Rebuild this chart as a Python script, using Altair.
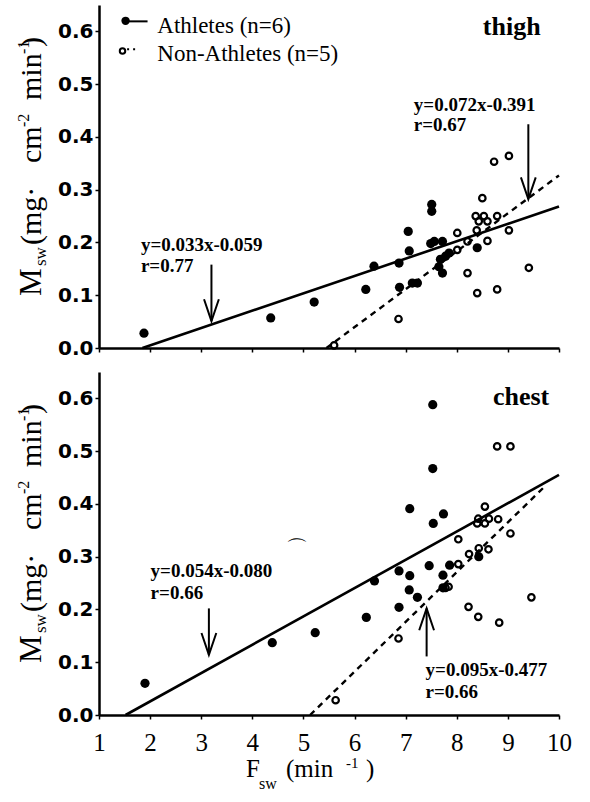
import altair as alt
import pandas as pd

# ---------------- data ----------------
thigh_ath_x = [1.88, 4.36, 5.21, 6.22, 6.38, 6.87, 6.88, 7.05, 7.07, 7.13, 7.23, 7.51, 7.51,
               7.49, 7.56, 7.72, 7.68, 7.78, 7.85, 7.72, 7.65, 8.40]
thigh_ath_y = [0.028, 0.057, 0.087, 0.111, 0.155, 0.161, 0.115, 0.221, 0.184, 0.123, 0.123, 0.272, 0.259,
               0.198, 0.202, 0.202, 0.168, 0.174, 0.180, 0.142, 0.154, 0.190]
thigh_non_x = [5.60, 6.86, 8.01, 8.01, 8.21, 8.21, 8.39, 8.37, 8.53, 8.43, 8.60, 8.50, 8.60,
               8.79, 8.73, 9.02, 9.02, 8.40, 8.79, 9.41]
thigh_non_y = [0.005, 0.055, 0.218, 0.186, 0.202, 0.142, 0.223, 0.250, 0.250, 0.240, 0.240, 0.284, 0.203,
               0.250, 0.353, 0.364, 0.223, 0.104, 0.111, 0.152]

chest_ath_x = [1.90, 4.39, 5.23, 6.23, 6.39, 6.87, 6.87, 7.08, 7.08, 7.07, 7.23, 7.46, 7.53,
               7.53, 7.54, 7.74, 7.73, 7.73, 7.86, 8.43]
chest_ath_y = [0.060, 0.137, 0.156, 0.185, 0.254, 0.273, 0.204, 0.391, 0.264, 0.237, 0.223, 0.283, 0.588,
               0.467, 0.363, 0.381, 0.265, 0.241, 0.284, 0.300]
chest_non_x = [5.63, 6.86, 7.78, 7.84, 8.03, 8.03, 8.24, 8.23, 8.42, 8.43, 8.40, 8.42, 8.55,
               8.55, 8.62, 8.63, 8.81, 8.79, 9.05, 9.05, 8.83, 9.46]
chest_non_y = [0.028, 0.145, 0.241, 0.243, 0.333, 0.286, 0.305, 0.205, 0.186, 0.316, 0.363, 0.372, 0.395,
               0.363, 0.314, 0.372, 0.371, 0.509, 0.509, 0.344, 0.175, 0.223]

# regression lines (end points)
thigh_ath_fit_x = [1.85, 10.0]
thigh_ath_fit_y = [0.0, 0.268]
thigh_non_fit_x = [5.45, 10.0]
thigh_non_fit_y = [0.0, 0.327]
chest_ath_fit_x = [1.52, 10.0]
chest_ath_fit_y = [0.0, 0.455]
chest_non_fit_x = [5.13, 9.72]
chest_non_fit_y = [0.0, 0.433]

thigh_eq = ["y=0.033x-0.059", "r=0.77", "y=0.072x-0.391", "r=0.67"]
chest_eq = ["y=0.054x-0.080", "r=0.66", "y=0.095x-0.477", "r=0.66"]
legend_labels = ["Athletes (n=6)", "Non-Athletes (n=5)"]
x_ticks = [1, 2, 3, 4, 5, 6, 7, 8, 9, 10]
y_ticks = [0.0, 0.1, 0.2, 0.3, 0.4, 0.5, 0.6]

SERIF = "Liberation Serif"
W, H = 460, 343


def xenc(show_labels):
    return alt.X("x:Q", scale=alt.Scale(domain=[1, 10], nice=False, zero=False),
                 axis=alt.Axis(values=x_ticks, title=None, labels=show_labels, grid=False,
                               domainColor="black", domainWidth=2.5, tickColor="black",
                               tickWidth=1.5, tickSize=4, labelFont=SERIF, labelFontSize=25,
                               labelColor="black", labelPadding=11, labelFlush=False))


def yenc():
    return alt.Y("y:Q", scale=alt.Scale(domain=[0, 0.65], nice=False, zero=False),
                 axis=alt.Axis(values=y_ticks, format=".1f", title=None, grid=False,
                               domainColor="black", domainWidth=2.5, tickColor="black",
                               tickWidth=1.5, tickSize=4, labelFont="DejaVu Sans",
                               labelFontWeight="bold", labelFontSize=20, labelColor="black",
                               labelPadding=2))


def vtext(txt, size, x, y):
    return alt.Chart(pd.DataFrame({"a": [0]})).mark_text(
        text=txt, font=SERIF, fontSize=size, angle=270, align="left",
        baseline="alphabetic", color="black").encode(x=alt.value(x), y=alt.value(y))


def htext(txt, size, x, y):
    return alt.Chart(pd.DataFrame({"a": [0]})).mark_text(
        text=txt, font=SERIF, fontSize=size, align="left",
        baseline="alphabetic", color="black").encode(x=alt.value(x), y=alt.value(y))


def panel(ath_x, ath_y, non_x, non_y, afx, afy, nfx, nfy, eq, eq_pos, arrows, name, name_pos,
          show_xlabels, legend=False, extra_mark=None):
    X = xenc(show_xlabels)
    Y = yenc()
    ath = alt.Chart(pd.DataFrame({"x": ath_x, "y": ath_y})).mark_point(
        filled=True, size=85, color="black", opacity=1).encode(x=X, y=Y)
    non = alt.Chart(pd.DataFrame({"x": non_x, "y": non_y})).mark_point(
        filled=False, size=42, color="black", strokeWidth=2.2, opacity=1).encode(x=X, y=Y)
    aline = alt.Chart(pd.DataFrame({"x": afx, "y": afy})).mark_line(
        color="black", strokeWidth=2.6).encode(x=X, y=Y)
    nline = alt.Chart(pd.DataFrame({"x": nfx, "y": nfy})).mark_line(
        color="black", strokeWidth=2.4, strokeDash=[6, 5]).encode(x=X, y=Y)

    eq_df = pd.DataFrame({"x": [p[0] for p in eq_pos], "y": [p[1] for p in eq_pos], "t": eq})
    eqs = alt.Chart(eq_df).mark_text(font=SERIF, fontWeight="bold", fontSize=19, align="left",
                                     baseline="middle", color="black").encode(x=X, y=Y, text="t:N")

    ar_df = pd.DataFrame({"x": [a[0] for a in arrows], "y": [a[1] for a in arrows],
                          "y2": [a[2] for a in arrows]})
    shafts = alt.Chart(ar_df).mark_rule(color="black", strokeWidth=2).encode(
        x=X, y=Y, y2="y2:Q")
    down = ar_df[ar_df["y2"] < ar_df["y"]]
    up = ar_df[ar_df["y2"] > ar_df["y"]]
    layers = [aline, nline, ath, non, eqs, shafts]
    if len(down):
        layers.append(alt.Chart(down).mark_point(
            shape="M -0.34 -1 L 0 0 L 0.34 -1", size=1900, filled=False, color="black",
            strokeWidth=2, opacity=1).encode(x=X, y=alt.Y("y2:Q")))
    if len(up):
        layers.append(alt.Chart(up).mark_point(
            shape="M -0.34 1 L 0 0 L 0.34 1", size=1900, filled=False, color="black",
            strokeWidth=2, opacity=1).encode(x=X, y=alt.Y("y2:Q")))

    title = alt.Chart(pd.DataFrame({"x": [name_pos[0]], "y": [name_pos[1]], "t": [name]})).mark_text(
        font=SERIF, fontWeight="bold", fontSize=26, align="right", baseline="middle",
        color="black").encode(x=X, y=Y, text="t:N")
    layers.append(title)

    if legend:
        lp = pd.DataFrame({"x": [1.52], "y": [0.620]})
        layers.append(alt.Chart(lp).mark_point(filled=True, size=70, color="black", opacity=1)
                      .encode(x=X, y=Y))
        layers.append(alt.Chart(pd.DataFrame({"x": [1.52], "x2": [1.95], "y": [0.619]}))
                      .mark_rule(color="black", strokeWidth=2).encode(x=X, x2="x2:Q", y=Y))
        op = pd.DataFrame({"x": [1.46], "y": [0.563]})
        layers.append(alt.Chart(op).mark_point(filled=False, size=30, color="black",
                                              strokeWidth=2, opacity=1).encode(x=X, y=Y))
        layers.append(alt.Chart(pd.DataFrame({"x": [1.55], "x2": [1.76], "y": [0.566]}))
                      .mark_rule(color="black", strokeWidth=2, strokeDash=[2, 4])
                      .encode(x=X, x2="x2:Q", y=Y))
        ld = pd.DataFrame({"x": [2.14, 2.14], "y": [0.611, 0.557], "t": legend_labels})
        layers.append(alt.Chart(ld).mark_text(font=SERIF, fontSize=23, align="left",
                                              baseline="middle", color="black")
                      .encode(x=X, y=Y, text="t:N"))

    if extra_mark is not None:
        layers.append(alt.Chart(pd.DataFrame({"x": [extra_mark[0]], "y": [extra_mark[1]], "t": ["⌒"]}))
                      .mark_text(font="DejaVu Sans", fontSize=22, color="black")
                      .encode(x=X, y=Y, text="t:N"))

    # y-axis title built from pieces (subscript / superscripts)
    layers += [
        vtext("M", 31, -58, 291),
        vtext("sw", 17, -53, 261),
        vtext("(mg·", 30, -58, 240),
        vtext("cm", 30, -58, 158),
        vtext("-2", 16, -70, 122),
        vtext("min", 30, -58, 95),
        vtext("-1", 16, -70, 49),
        vtext(")", 30, -58, 42),
    ]

    if show_xlabels:
        layers += [
            htext("F", 25, 147, 405),
            htext("sw", 16, 160, 417),
            htext("(min", 25, 187, 405),
            htext("-1", 15, 247, 396),
            htext(")", 25, 267, 405),
        ]

    return alt.layer(*layers).properties(width=W, height=H)


top = panel(thigh_ath_x, thigh_ath_y, thigh_non_x, thigh_non_y,
            thigh_ath_fit_x, thigh_ath_fit_y, thigh_non_fit_x, thigh_non_fit_y,
            thigh_eq, [(1.82, 0.196), (1.82, 0.155), (7.16, 0.460), (7.16, 0.422)],
            [(3.20, 0.158, 0.051), (9.40, 0.424, 0.282)],
            "thigh", (9.64, 0.608), show_xlabels=False, legend=True)

bottom = panel(chest_ath_x, chest_ath_y, chest_non_x, chest_non_y,
               chest_ath_fit_x, chest_ath_fit_y, chest_non_fit_x, chest_non_fit_y,
               chest_eq, [(2.01, 0.272), (2.01, 0.231), (7.39, 0.085), (7.39, 0.044)],
               [(3.15, 0.202, 0.114), (7.41, 0.111, 0.202)],
               "chest", (9.81, 0.602), show_xlabels=True, extra_mark=(4.88, 0.315))

chart = alt.vconcat(top, bottom, spacing=14).properties(
    padding={"left": 16, "top": 5, "right": 5, "bottom": 5},
    background="white",
).configure_view(stroke=None)

chart.save("out.html", embed_options={"renderer": "svg", "actions": False})
